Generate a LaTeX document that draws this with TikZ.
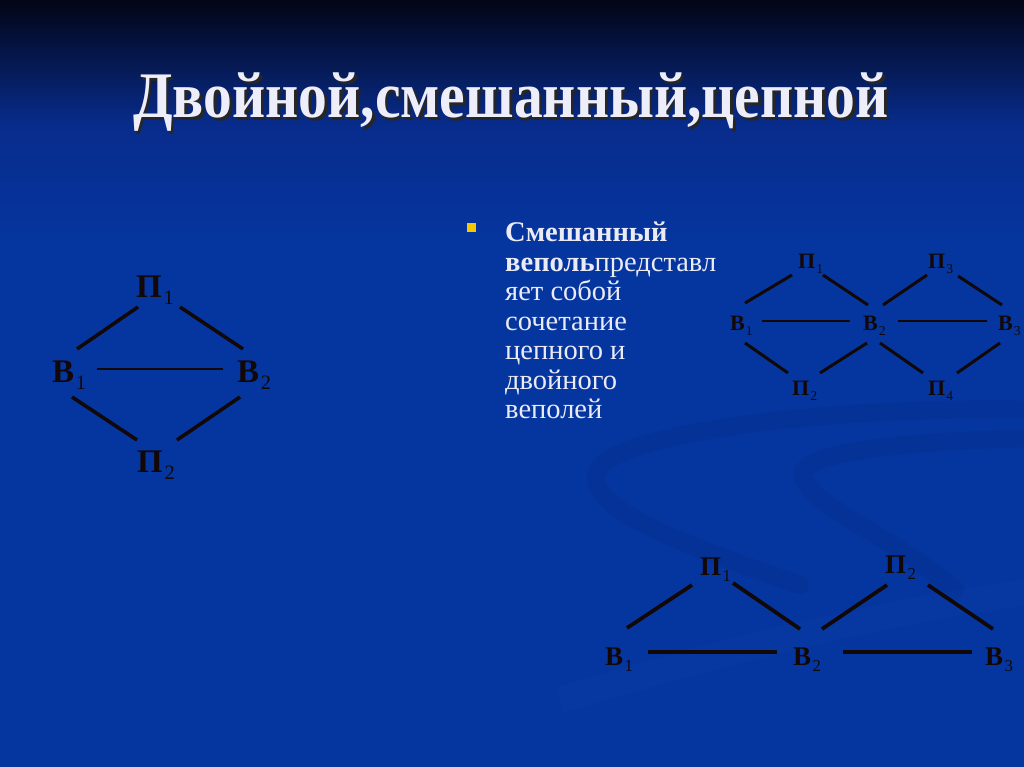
\documentclass[tikz,border=0pt]{standalone}
\usepackage{fontspec}
\setmainfont{Liberation Serif}
\usepackage{graphicx}
\usetikzlibrary{calc}
\definecolor{bgtop}{RGB}{3,5,22}
\definecolor{bgmid}{RGB}{8,44,140}
\definecolor{bgbot}{RGB}{5,54,160}
\definecolor{swdark}{RGB}{4,36,120}
\definecolor{swlight}{RGB}{40,90,190}
\definecolor{titlec}{RGB}{238,238,250}
\definecolor{txtc}{RGB}{235,235,245}
\definecolor{bul}{RGB}{245,200,0}
\definecolor{ink}{RGB}{18,8,8}
\newcommand{\sbs}[1]{\kern0.05em\raisebox{-0.24em}{\mdseries\scalebox{0.62}{#1}}}
\newcommand{\titletext}{Двойной,смешанный,цепной}
\begin{document}
\begin{tikzpicture}[x=1pt,y=-1pt,
  lab/.style={inner sep=0pt, anchor=base west, text=ink},
  labA/.style={lab, font=\fontsize{33}{33}\selectfont\bfseries},
  labB/.style={lab, font=\fontsize{22}{22}\selectfont\bfseries},
  labC/.style={lab, font=\fontsize{27}{27}\selectfont\bfseries},
  diagA/.style={draw=ink, line width=3.6pt},
  horA/.style={draw=ink, line width=2.6pt},
  diagB/.style={draw=ink, line width=3pt},
  horB/.style={draw=ink, line width=2.2pt},
  diagC/.style={draw=ink, line width=3.8pt},
  horC/.style={draw=ink, line width=3.4pt},
  swoosh/.style={line width=18pt, line cap=round, opacity=0.22},
]
\useasboundingbox (0,0) rectangle (1024,767);
% background
\fill[bgbot] (0,0) rectangle (1024,767);
\shade[top color=bgtop, bottom color=bgbot, middle color=bgmid] (0,0) rectangle (1024,250);
% decorative swooshes
\draw[swoosh, draw=swdark] (1040,410) .. controls (850,405) and (620,430) .. (598,470)
   .. controls (580,510) and (700,550) .. (800,585);
\draw[swoosh, draw=swdark] (1040,438) .. controls (930,440) and (800,450) .. (803,475)
   .. controls (806,505) and (900,540) .. (955,590);
\draw[line width=26pt, draw=swlight, opacity=0.08] (560,700) .. controls (760,640) and (900,610) .. (1040,590);

% title with shadow
\node[font=\fontsize{65}{65}\selectfont\bfseries, text=titlec, anchor=base, inner sep=0pt] (title) at (511,118)
  {\scalebox{0.886}[1]{\rlap{\kern3pt\raisebox{-3pt}{\color{black!85}\titletext}}\titletext}};

% bullet text
\node[fill=bul, minimum size=9.5pt, inner sep=0pt] (bullet) at (471.5,227.5) {};
\node[anchor=north west, align=left, inner sep=0pt, text=txtc, font=\fontsize{28.5}{29.5}\selectfont] (txt) at (505,222)
  {\textbf{Смешанный}\\\textbf{веполь}представл\\яет собой\\сочетание\\цепного и\\двойного\\веполей};

% ---- left graph (double)
\node[labA] (a1) at (136,297) {П\sbs{1}};
\node[labA] (aB1) at (52,382) {В\sbs{1}};
\node[labA] (aB2) at (237,382) {В\sbs{2}};
\node[labA] (a2) at (137,472) {П\sbs{2}};
\draw[diagA] ($(a1.base west)+(2,10)$) -- ($(aB1.base west)+(25,-33)$);
\draw[diagA] ($(a1.base west)+(44,10)$) -- ($(aB2.base west)+(6,-33)$);
\draw[horA] ($(aB1.base west)+(45,-13)$) -- ($(aB2.base west)+(-14,-13)$);
\draw[diagA] ($(aB1.base west)+(20,15)$) -- ($(a2.base west)+(0,-32)$);
\draw[diagA] ($(aB2.base west)+(3,15)$) -- ($(a2.base west)+(40,-32)$);

% ---- right graph (mixed)
\node[labB] (bP1) at (798,268) {П\sbs{1}};
\node[labB] (bP3) at (928,268) {П\sbs{3}};
\node[labB] (bB1) at (730,330) {В\sbs{1}};
\node[labB] (bB2) at (863,330) {В\sbs{2}};
\node[labB] (bB3) at (998,330) {В\sbs{3}};
\node[labB] (bP2) at (792,395) {П\sbs{2}};
\node[labB] (bP4) at (928,395) {П\sbs{4}};
\draw[diagB] ($(bB1.base west)+(15,-27)$) -- ($(bP1.base west)+(-6,7)$);
\draw[diagB] ($(bP1.base west)+(25,7)$) -- ($(bB2.base west)+(5,-25)$);
\draw[diagB] ($(bB2.base west)+(20,-25)$) -- ($(bP3.base west)+(-1,7)$);
\draw[diagB] ($(bP3.base west)+(30,8)$) -- ($(bB3.base west)+(4,-25)$);
\draw[horB] ($(bB1.base west)+(32,-9)$) -- ($(bB2.base west)+(-13,-9)$);
\draw[horB] ($(bB2.base west)+(35,-9)$) -- ($(bB3.base west)+(-11,-9)$);
\draw[diagB] ($(bB1.base west)+(15,13)$) -- ($(bP2.base west)+(-4,-22)$);
\draw[diagB] ($(bP2.base west)+(28,-22)$) -- ($(bB2.base west)+(4,13)$);
\draw[diagB] ($(bB2.base west)+(17,13)$) -- ($(bP4.base west)+(-5,-22)$);
\draw[diagB] ($(bP4.base west)+(29,-22)$) -- ($(bB3.base west)+(2,13)$);

% ---- bottom graph (chain)
\node[labC] (cP1) at (700,575) {П\sbs{1}};
\node[labC] (cP2) at (885,573) {П\sbs{2}};
\node[labC] (cB1) at (605,665) {В\sbs{1}};
\node[labC] (cB2) at (793,665) {В\sbs{2}};
\node[labC] (cB3) at (985,665) {В\sbs{3}};
\draw[diagC] ($(cB1.base west)+(22,-37)$) -- ($(cP1.base west)+(-8,10)$);
\draw[diagC] ($(cP1.base west)+(33,8)$) -- ($(cB2.base west)+(7,-36)$);
\draw[diagC] ($(cB2.base west)+(29,-36)$) -- ($(cP2.base west)+(2,12)$);
\draw[diagC] ($(cP2.base west)+(43,12)$) -- ($(cB3.base west)+(8,-36)$);
\draw[horC] ($(cB1.base west)+(43,-13)$) -- ($(cB2.base west)+(-16,-13)$);
\draw[horC] ($(cB2.base west)+(50,-13)$) -- ($(cB3.base west)+(-13,-13)$);
\end{tikzpicture}
\end{document}
